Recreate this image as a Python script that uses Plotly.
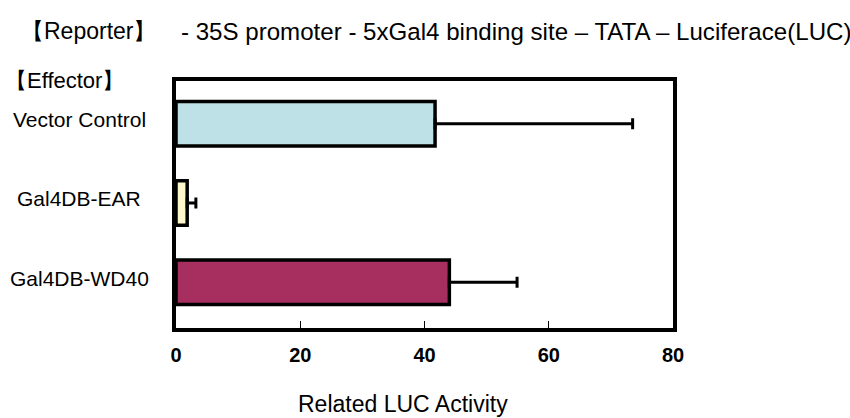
import plotly.graph_objects as go

# Luciferase reporter assay results
effectors = ["Vector Control", "Gal4DB-EAR", "Gal4DB-WD40"]
luc_activity = [41.7, 1.8, 44.0]
luc_error = [31.8, 1.4, 10.9]
bar_colors = ["#bde1e6", "#fcf8cb", "#a72f60"]

x_ticks = [0, 20, 40, 60, 80]
reporter_label = "【Reporter】"
reporter_construct = "- 35S promoter - 5xGal4 binding site – TATA – Luciferace(LUC)"
effector_label = "【Effector】"
x_title = "Related LUC Activity"

W, H = 850, 418
L, R, T, B = 176, 177, 81, 90
plot_w = W - L - R
plot_h = H - T - B


def px_x(px):
    return (px - L) / plot_w


def px_y(py):
    return 1 - (py - T) / plot_h


font_family = "Arial, Liberation Sans, sans-serif"

fig = go.Figure(
    go.Bar(
        x=luc_activity,
        y=effectors,
        orientation="h",
        width=0.56,
        marker=dict(color=bar_colors, line=dict(color="black", width=3.5)),
        error_x=dict(
            type="data",
            symmetric=False,
            array=luc_error,
            arrayminus=[0] * len(luc_error),
            color="black",
            thickness=3,
            width=5.5,
        ),
    )
)

annotations = []
for name in effectors:
    annotations.append(
        dict(
            x=px_x(79), xref="paper", y=name, yref="y",
            text=name, showarrow=False, xanchor="center", yanchor="middle",
            yshift=4, font=dict(family=font_family, size=21, color="black"),
        )
    )

annotations += [
    dict(x=px_x(19), xref="paper", y=px_y(31), yref="paper", text=reporter_label,
         showarrow=False, xanchor="left", yanchor="middle",
         font=dict(family=font_family, size=23, color="black")),
    dict(x=px_x(179), xref="paper", y=px_y(31), yref="paper", text=reporter_construct,
         showarrow=False, xanchor="left", yanchor="middle",
         font=dict(family=font_family, size=24.1, color="black")),
    dict(x=px_x(3), xref="paper", y=px_y(80), yref="paper", text=effector_label,
         showarrow=False, xanchor="left", yanchor="middle",
         font=dict(family=font_family, size=22, color="black")),
    dict(x=px_x(402.5), xref="paper", y=px_y(404), yref="paper", text=x_title,
         showarrow=False, xanchor="center", yanchor="middle",
         font=dict(family=font_family, size=23, color="black")),
]

fig.update_layout(
    width=W,
    height=H,
    margin=dict(l=L, r=R, t=T, b=B, pad=0),
    paper_bgcolor="white",
    plot_bgcolor="white",
    showlegend=False,
    annotations=annotations,
    xaxis=dict(
        range=[0, 80],
        tickvals=x_ticks,
        ticktext=[str(v) for v in x_ticks],
        ticks="inside",
        ticklen=7,
        tickwidth=1,
        tickcolor="black",
        showline=True,
        linecolor="black",
        linewidth=3.5,
        mirror=True,
        showgrid=False,
        zeroline=False,
        tickfont=dict(family=font_family, size=20, color="black", weight="bold"),
        ticklabelstandoff=6,
    ),
    yaxis=dict(
        type="category",
        categoryorder="array",
        categoryarray=effectors,
        range=[2.576, -0.538],
        showticklabels=False,
        ticks="",
        showline=True,
        linecolor="black",
        linewidth=3.5,
        mirror=True,
        showgrid=False,
        zeroline=False,
    ),
)

fig.write_html("out.html")
